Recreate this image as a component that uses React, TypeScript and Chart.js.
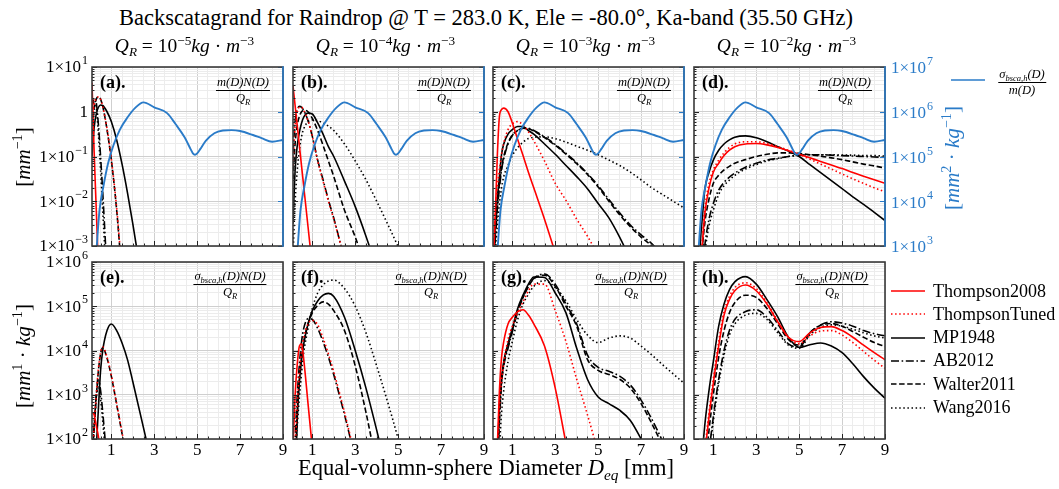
import React, { useEffect, useRef } from "react";
import { Chart, registerables } from "chart.js";

Chart.register(...registerables);

// ---------------- DATA (log10 of values) ----------------
const D_GRID = [0.1, 0.2, 0.3, 0.4, 0.5, 0.6, 0.8, 1.0, 1.25, 1.5, 1.75, 2, 2.5, 3, 3.5, 4, 4.5, 5, 5.5, 6, 6.5, 7, 7.5, 8, 8.5, 9];
const MODELS = ["Thompson2008", "ThompsonTuned", "MP1948", "AB2012", "Walter2011", "Wang2016"];
const MODEL_COLOR = ["#ff0000", "#ff0000", "#000000", "#000000", "#000000", "#000000"];
const MODEL_DASH = [[], [1.5, 2.6], [], [8, 2.6, 1.6, 2.6], [5.5, 2.6], [1.5, 2.6]];
const QR_EXP = [-5, -4, -3, -2];
const PANEL_LETTERS = ["a", "b", "c", "d", "e", "f", "g", "h"];
const X_TICK_LABELS = [1, 3, 5, 7, 9];
const TOP_LEFT_EXP = [-3, -2, -1, 0, 1];
const TOP_RIGHT_EXP = [3, 4, 5, 6, 7];
const BOTTOM_EXP = [2, 3, 4, 5, 6];

// sigma_bsca,h(D)/m(D)  (right axis, top row)
const BLUE_D = [0.3, 0.45, 0.63, 0.85, 1.1, 1.4, 1.75, 2.1, 2.5, 3.0, 3.6, 4.0, 4.4, 4.7, 4.8, 4.9, 5.0, 5.15, 5.4, 5.8, 6.2, 6.6, 7.0, 7.6, 8.0, 8.5, 9.0];
const BLUE_LOG = [2.85, 3.8, 4.33, 4.85, 5.25, 5.6, 5.87, 6.08, 6.21, 6.1, 5.97, 5.72, 5.44, 5.16, 5.07, 5.04, 5.07, 5.17, 5.35, 5.52, 5.58, 5.59, 5.57, 5.48, 5.41, 5.33, 5.37];

// (a) QR=1e-5, m(D)N(D)/QR
const a_Thompson2008 = [0.65, -0.9, -2.2, -3.5];
const a_ThompsonTuned = [-0.3, 0.15, 0.3, 0.33, 0.28, 0.12, -0.38, -1.05, -2.15, -3.6];
const a_MP1948 = [-1.0, -0.35, -0.05, 0.1, 0.15, 0.14, 0.0, -0.22, -0.63, -1.17, -1.8, -2.5, -4.0];
const a_AB2012 = [0.1, 0.3, 0.2, -0.3, -1.0, -1.8, -3.6];
const a_Walter2011 = [-0.5, 0.05, 0.28, 0.33, 0.28, 0.12, -0.4, -1.08, -2.2, -3.7];
const a_Wang2016 = [0.0, 0.25, 0.1, -0.5, -1.3, -2.2, -4.0];

// (b) QR=1e-4
const b_Thompson2008 = [0.58, 0.13, -0.32, -0.77, -1.22, -1.67, -2.57, -3.47];
const b_ThompsonTuned = [-1.2, -0.3, 0.0, 0.1, 0.1, 0.03, -0.2, -0.55, -1.1, -1.55, -2.0, -2.4, -3.3];
const b_MP1948 = [-2.5, -1.3, -0.75, -0.45, -0.25, -0.12, -0.03, -0.05, -0.25, -0.5, -0.78, -1.0, -1.55, -2.12, -2.78, -3.5];
const b_AB2012 = [-0.9, -0.2, 0.05, 0.12, 0.1, 0.03, -0.2, -0.55, -1.08, -1.52, -1.97, -2.38, -3.3];
const b_Walter2011 = [-1.5, -0.7, -0.3, -0.1, 0.0, 0.03, 0.0, -0.15, -0.42, -0.75, -1.1, -1.45, -2.2, -2.8, -3.5];
const b_Wang2016 = [-3.2, -2.0, -1.3, -0.85, -0.55, -0.38, -0.22, -0.18, -0.2, -0.25, -0.32, -0.42, -0.72, -1.1, -1.52, -2.0, -2.5, -3.02, -3.6];

// (c) QR=1e-3
const c_Thompson2008 = [-3.5, -2.4, -1.0, -0.1, 0.05, 0.08, 0.0, -0.25, -0.62, -0.98, -1.35, -1.7, -2.4, -3.15];
const c_ThompsonTuned = [-3.5, -2.3, -1.7, -1.3, -0.95, -0.7, -0.4, -0.27, -0.22, -0.3, -0.45, -0.65, -1.1, -1.6, -1.98, -2.4, -2.78, -3.2];
const c_MP1948 = [-3.5, -2.6, -1.95, -1.45, -0.95, -0.72, -0.5, -0.4, -0.33, -0.33, -0.42, -0.5, -0.72, -0.95, -1.2, -1.45, -1.72, -2.05, -2.37, -2.8, -3.3];
const c_AB2012 = [-3.6, -2.9, -2.2, -1.7, -1.3, -1.05, -0.72, -0.53, -0.42, -0.37, -0.37, -0.42, -0.56, -0.73, -0.93, -1.14, -1.38, -1.65, -1.96, -2.26, -2.53, -2.75, -2.95, -3.2];
const c_Walter2011 = [-3.5, -2.8, -2.1, -1.6, -1.25, -1.0, -0.7, -0.52, -0.42, -0.37, -0.38, -0.43, -0.58, -0.75, -0.95, -1.16, -1.4, -1.68, -2.0, -2.3, -2.57, -2.8, -3.0, -3.3];
const c_Wang2016 = [-4.0, -3.2, -2.55, -2.05, -1.7, -1.45, -1.2, -0.98, -0.8, -0.68, -0.6, -0.57, -0.56, -0.6, -0.68, -0.77, -0.86, -0.96, -1.08, -1.2, -1.35, -1.52, -1.7, -1.85, -2.0, -2.15];

// (d) QR=1e-2
const d_Thompson2008 = [-6, -5, -4.5, -3.8, -2.9, -2.3, -1.7, -1.35, -1.15, -0.98, -0.86, -0.78, -0.72, -0.71, -0.74, -0.8, -0.87, -0.95, -1.03, -1.11, -1.19, -1.27, -1.36, -1.44, -1.52, -1.6];
const d_ThompsonTuned = [-6, -5, -4.3, -3.6, -2.8, -2.2, -1.6, -1.3, -1.08, -0.92, -0.8, -0.72, -0.67, -0.67, -0.71, -0.78, -0.86, -0.95, -1.06, -1.17, -1.28, -1.39, -1.5, -1.6, -1.7, -1.79];
const d_MP1948 = [-6, -5, -4.0, -2.9, -2.3, -1.75, -1.35, -1.08, -0.86, -0.72, -0.63, -0.57, -0.54, -0.58, -0.67, -0.78, -0.88, -1.0, -1.18, -1.36, -1.54, -1.72, -1.9, -2.07, -2.25, -2.43];
const d_AB2012 = [-6, -5.5, -5, -4.2, -3.5, -3.0, -2.4, -2.05, -1.75, -1.58, -1.46, -1.37, -1.24, -1.15, -1.08, -1.04, -1.0, -0.97, -0.96, -0.96, -0.97, -0.98, -0.99, -1.0, -1.01, -1.02];
const d_Walter2011 = [-6, -5, -4.5, -3.8, -3.0, -2.5, -1.95, -1.6, -1.42, -1.3, -1.22, -1.15, -1.07, -1.0, -0.95, -0.92, -0.92, -0.93, -0.96, -0.99, -1.03, -1.07, -1.12, -1.17, -1.21, -1.26];
const d_Wang2016 = [-6, -5.5, -5, -4.3, -3.6, -3.15, -2.55, -2.2, -1.85, -1.65, -1.53, -1.42, -1.28, -1.18, -1.1, -1.05, -1.0, -0.97, -0.96, -0.96, -0.96, -0.97, -0.97, -0.98, -0.98, -0.99];

// (e) QR=1e-5, sigma N / QR
const e_Thompson2008 = [2.6, 2.55, 2.3, 2.05, 1.6];
const e_ThompsonTuned = [1.5, 2.3, 3.0, 3.6, 3.95, 4.08, 3.85, 3.45, 2.8, 2.15, 1.5];
const e_MP1948 = [0.0, 0.8, 1.8, 2.7, 3.55, 4.0, 4.45, 4.6, 4.45, 4.17, 3.8, 3.3, 2.25, 1.2];
const e_AB2012 = [1.5, 2.3, 3.0, 3.33, 3.1, 2.6, 1.5];
const e_Walter2011 = [1.4, 2.25, 2.95, 3.55, 3.93, 4.06, 3.83, 3.42, 2.78, 2.12, 1.45];
const e_Wang2016 = [1.4, 2.2, 2.9, 3.2, 2.9, 2.4, 1.3];

// (f) QR=1e-4
const f_Thompson2008 = [1.8, 3.0, 3.7, 4.1, 4.15, 3.8, 2.8, 1.8];
const f_ThompsonTuned = [0.5, 1.7, 2.8, 3.5, 4.0, 4.3, 4.6, 4.68, 4.58, 4.28, 3.92, 3.52, 2.6, 1.6];
const f_MP1948 = [0.0, 1.0, 2.5, 3.3, 3.8, 4.15, 4.6, 4.9, 5.12, 5.25, 5.29, 5.22, 4.75, 4.0, 3.15, 2.2, 1.2];
const f_AB2012 = [0.8, 2.0, 3.0, 3.7, 4.2, 4.5, 4.72, 4.7, 4.5, 4.2, 3.85, 3.45, 2.55, 1.55];
const f_Walter2011 = [0.2, 1.2, 2.6, 3.35, 3.85, 4.2, 4.6, 4.85, 5.02, 5.1, 5.05, 4.9, 4.45, 3.65, 2.6, 1.4];
const f_Wang2016 = [0.5, 1.5, 2.3, 2.95, 3.5, 3.95, 4.5, 4.95, 5.3, 5.48, 5.57, 5.59, 5.4, 5.0, 4.4, 3.65, 2.85, 2.0, 1.0];

// (g) QR=1e-3
const g_Thompson2008 = [-1, 0.5, 1.8, 3.1, 3.85, 4.2, 4.6, 4.75, 4.88, 4.92, 4.8, 4.6, 4.1, 3.15, 1.9];
const g_ThompsonTuned = [-1, 0.3, 1.5, 2.7, 3.3, 3.7, 4.25, 4.55, 4.85, 5.1, 5.35, 5.5, 5.5, 4.9, 4.2, 3.35, 2.55, 1.7];
const g_MP1948 = [-1, 0.3, 1.4, 2.75, 3.35, 3.75, 4.15, 4.5, 4.95, 5.25, 5.5, 5.66, 5.65, 5.3, 4.85, 4.05, 3.35, 2.95, 2.8, 2.65, 2.42, 2.0, 1.5];
const g_AB2012 = [-1, 0.1, 1.2, 2.4, 3.25, 3.65, 4.05, 4.42, 4.88, 5.2, 5.45, 5.63, 5.73, 5.5, 5.05, 4.6, 3.9, 3.62, 3.53, 3.42, 3.22, 2.88, 2.45, 1.95, 1.4];
const g_Walter2011 = [-1, 0.2, 1.3, 2.5, 3.3, 3.7, 4.1, 4.45, 4.9, 5.2, 5.45, 5.62, 5.7, 5.45, 5.0, 4.55, 3.8, 3.55, 3.46, 3.35, 3.15, 2.8, 2.35, 1.85];
const g_Wang2016 = [-1, -0.5, 0.6, 1.8, 2.6, 3.1, 3.75, 4.2, 4.7, 5.05, 5.27, 5.45, 5.58, 5.42, 5.12, 4.7, 4.35, 4.18, 4.28, 4.33, 4.28, 4.1, 3.9, 3.68, 3.47, 3.26];

// (h) QR=1e-2
const h_Thompson2008 = [-3, -2, -1, 0.0, 0.9, 1.6, 2.5, 3.26, 4.1, 4.8, 5.15, 5.35, 5.48, 5.35, 5.05, 4.65, 4.3, 4.2, 4.4, 4.52, 4.54, 4.45, 4.3, 4.12, 3.95, 3.79];
const h_ThompsonTuned = [-3, -2, -1, 0.1, 1.0, 1.7, 2.6, 3.35, 4.2, 4.88, 5.22, 5.42, 5.53, 5.4, 5.08, 4.67, 4.3, 4.15, 4.33, 4.44, 4.45, 4.35, 4.18, 3.98, 3.78, 3.6];
const h_MP1948 = [-3, -1.5, -0.5, 0.8, 1.7, 2.3, 3.1, 3.75, 4.55, 5.05, 5.37, 5.55, 5.67, 5.5, 5.15, 4.76, 4.3, 4.07, 4.13, 4.17, 4.1, 3.95, 3.7, 3.41, 3.15, 2.92];
const h_AB2012 = [-3, -2.5, -1.5, -0.7, 0.1, 0.8, 1.7, 2.5, 3.35, 4.0, 4.45, 4.7, 4.88, 4.92, 4.75, 4.45, 4.15, 4.08, 4.4, 4.58, 4.65, 4.62, 4.55, 4.45, 4.38, 4.33];
const h_Walter2011 = [-3, -2, -1, -0.3, 0.5, 1.2, 2.2, 3.0, 3.85, 4.45, 4.85, 5.08, 5.25, 5.2, 4.95, 4.6, 4.25, 4.12, 4.4, 4.57, 4.61, 4.55, 4.43, 4.3, 4.18, 4.09];
const h_Wang2016 = [-3, -2.5, -1.5, -0.8, -0.1, 0.6, 1.6, 2.4, 3.25, 3.9, 4.35, 4.6, 4.8, 4.84, 4.7, 4.4, 4.12, 4.05, 4.35, 4.52, 4.58, 4.55, 4.48, 4.4, 4.33, 4.28];

const TOP_SERIES = [
  [a_Thompson2008, a_ThompsonTuned, a_MP1948, a_AB2012, a_Walter2011, a_Wang2016],
  [b_Thompson2008, b_ThompsonTuned, b_MP1948, b_AB2012, b_Walter2011, b_Wang2016],
  [c_Thompson2008, c_ThompsonTuned, c_MP1948, c_AB2012, c_Walter2011, c_Wang2016],
  [d_Thompson2008, d_ThompsonTuned, d_MP1948, d_AB2012, d_Walter2011, d_Wang2016],
];
const BOTTOM_SERIES = [
  [e_Thompson2008, e_ThompsonTuned, e_MP1948, e_AB2012, e_Walter2011, e_Wang2016],
  [f_Thompson2008, f_ThompsonTuned, f_MP1948, f_AB2012, f_Walter2011, f_Wang2016],
  [g_Thompson2008, g_ThompsonTuned, g_MP1948, g_AB2012, g_Walter2011, g_Wang2016],
  [h_Thompson2008, h_ThompsonTuned, h_MP1948, h_AB2012, h_Walter2011, h_Wang2016],
];

// ---------------- LAYOUT ----------------
const FONT = '"Liberation Serif", "Times New Roman", serif';
const BLUE = "#2a7bc8";
const COL_LEFT = [92, 293, 493, 694];
const PANEL_W = 191;
const ROW_TOP = [67, 262];
const ROW_H = [179, 177];
const PAD = { left: 90, right: 70, top: 12, bottom: 30 };

function toPoints(logs: number[]) {
  return D_GRID.slice(0, logs.length).map((d, i) => ({ x: d, y: Math.pow(10, logs[i]) }));
}

function isDecade(v: number) {
  const l = Math.log10(v);
  return Math.abs(l - Math.round(l)) < 1e-6;
}

function logTicks(minExp: number, maxExp: number) {
  const t: { value: number }[] = [];
  for (let e = minExp; e < maxExp; e++) for (let k = 1; k < 10; k++) t.push({ value: k * Math.pow(10, e) });
  t.push({ value: Math.pow(10, maxExp) });
  return t;
}

function drawPow(ctx: CanvasRenderingContext2D, exp: number, x: number, y: number, align: string, color: string) {
  ctx.fillStyle = color;
  ctx.textBaseline = "middle";
  ctx.font = `17px ${FONT}`;
  if (exp === 0) {
    ctx.textAlign = align as CanvasTextAlign;
    ctx.fillText("1", x, y);
    return;
  }
  const base = "1×10";
  const sup = exp < 0 ? "−" + Math.abs(exp) : String(exp);
  const wb = ctx.measureText(base).width;
  ctx.font = `12px ${FONT}`;
  const ws = ctx.measureText(sup).width;
  const x0 = align === "right" ? x - wb - ws - 1 : x;
  ctx.textAlign = "left";
  ctx.font = `17px ${FONT}`;
  ctx.fillText(base, x0, y);
  ctx.font = `12px ${FONT}`;
  ctx.fillText(sup, x0 + wb + 1, y - 7);
}

const decoPlugin = {
  id: "deco",
  afterDraw(chart: any) {
    const o = chart.options.plugins.deco;
    const { ctx, chartArea: ca } = chart;
    const xs = chart.scales.x;
    const ys = chart.scales.y;
    ctx.save();
    ctx.strokeStyle = "#222";
    ctx.lineWidth = 1;
    for (const t of ys.ticks) {
      const py = Math.round(ys.getPixelForValue(t.value)) + 0.5;
      ctx.beginPath();
      ctx.moveTo(ca.left, py);
      ctx.lineTo(ca.left + (isDecade(t.value) ? 5 : 2.5), py);
      ctx.stroke();
    }
    for (const t of xs.ticks) {
      const px = Math.round(xs.getPixelForValue(t.value)) + 0.5;
      const major = Math.abs((t.value % 2) - 1) < 1e-6;
      ctx.beginPath();
      ctx.moveTo(px, ca.bottom);
      ctx.lineTo(px, ca.bottom - (major ? 5 : 2.5));
      ctx.stroke();
    }
    if (o.row === 0) {
      const y2 = chart.scales.y2;
      ctx.strokeStyle = BLUE;
      for (const e of TOP_RIGHT_EXP) {
        const py = Math.round(y2.getPixelForValue(Math.pow(10, e))) + 0.5;
        ctx.beginPath();
        ctx.moveTo(ca.right, py);
        ctx.lineTo(ca.right - 5, py);
        ctx.stroke();
      }
    }
    ctx.strokeStyle = "#3a3a3a";
    ctx.lineWidth = 1.6;
    ctx.strokeRect(ca.left, ca.top, ca.right - ca.left, ca.bottom - ca.top);
    if (o.row === 0) {
      ctx.strokeStyle = BLUE;
      ctx.beginPath();
      ctx.moveTo(ca.right, ca.top - 0.8);
      ctx.lineTo(ca.right, ca.bottom + 0.8);
      ctx.stroke();
    }
    if (o.col === 0) {
      const exps = o.row === 0 ? TOP_LEFT_EXP : BOTTOM_EXP;
      for (const e of exps) drawPow(ctx, e, ca.left - 4, ys.getPixelForValue(Math.pow(10, e)) + 1, "right", "#000");
    }
    if (o.row === 0 && o.col === 3) {
      const y2 = chart.scales.y2;
      for (const e of TOP_RIGHT_EXP) drawPow(ctx, e, ca.right + 6, y2.getPixelForValue(Math.pow(10, e)) + 2, "left", BLUE);
    }
    if (o.row === 1) {
      ctx.fillStyle = "#000";
      ctx.font = `17px ${FONT}`;
      ctx.textAlign = "center";
      ctx.textBaseline = "middle";
      for (const v of X_TICK_LABELS) ctx.fillText(String(v), xs.getPixelForValue(v), ca.bottom + 12);
    }
    ctx.restore();
  },
};

function Panel({ row, col }: { row: number; col: number }) {
  const ref = useRef<HTMLCanvasElement | null>(null);
  const W = PANEL_W + PAD.left + PAD.right;
  const H = ROW_H[row] + PAD.top + PAD.bottom;
  useEffect(() => {
    const series = row === 0 ? TOP_SERIES[col] : BOTTOM_SERIES[col];
    const datasets: any[] = [];
    if (row === 0) {
      datasets.push({
        label: "sigma/m",
        data: BLUE_D.map((d, i) => ({ x: d, y: Math.pow(10, BLUE_LOG[i]) })),
        yAxisID: "y2",
        borderColor: BLUE,
        borderWidth: 1.9,
        clip: 0,
      });
    }
    MODELS.forEach((m, i) => {
      datasets.push({
        label: m,
        data: toPoints(series[i]),
        yAxisID: "y",
        borderColor: MODEL_COLOR[i],
        borderDash: MODEL_DASH[i],
        borderWidth: 1.6,
        clip: 0,
      });
    });
    const yMinExp = row === 0 ? -3 : 2;
    const yMaxExp = row === 0 ? 1 : 6;
    const scales: any = {
      x: {
        type: "linear",
        min: 0.1,
        max: 9,
        afterBuildTicks: (s: any) => {
          const t: { value: number }[] = [];
          for (let v = 0.5; v <= 9.001; v += 0.5) t.push({ value: Math.round(v * 10) / 10 });
          s.ticks = t;
        },
        afterFit: (s: any) => { s.height = 0; },
        ticks: { display: false },
        border: { display: false },
        grid: {
          drawTicks: false,
          lineWidth: 1,
          color: (c: any) => (c.tick && Math.abs((c.tick.value % 2) - 1) < 1e-6 ? "#cfcfcf" : "#ececec"),
        },
      },
      y: {
        type: "logarithmic",
        position: "left",
        min: Math.pow(10, yMinExp),
        max: Math.pow(10, yMaxExp),
        afterBuildTicks: (s: any) => { s.ticks = logTicks(yMinExp, yMaxExp); },
        afterFit: (s: any) => { s.width = 0; },
        ticks: { display: false },
        border: { display: false },
        grid: {
          drawTicks: false,
          lineWidth: 1,
          color: (c: any) => (c.tick && isDecade(c.tick.value) ? "#cfcfcf" : "#ececec"),
        },
      },
    };
    if (row === 0) {
      scales.y2 = {
        type: "logarithmic",
        position: "right",
        min: 1e3,
        max: 1e7,
        afterFit: (s: any) => { s.width = 0; },
        ticks: { display: false },
        border: { display: false },
        grid: { display: false, drawTicks: false },
      };
    }
    const chart = new Chart(ref.current as HTMLCanvasElement, {
      type: "line",
      data: { datasets },
      options: {
        animation: false,
        responsive: false,
        maintainAspectRatio: false,
        layout: { padding: PAD },
        elements: { point: { radius: 0 }, line: { cubicInterpolationMode: "monotone" } },
        plugins: { legend: { display: false }, tooltip: { enabled: false }, deco: { row, col } } as any,
        scales,
      } as any,
      plugins: [decoPlugin as any],
    });
    return () => chart.destroy();
  }, [row, col]);
  return (
    <canvas
      ref={ref}
      width={W}
      height={H}
      style={{ position: "absolute", left: COL_LEFT[col] - PAD.left, top: ROW_TOP[row] - PAD.top, width: W, height: H }}
    />
  );
}

const supS: React.CSSProperties = { fontSize: "0.68em", verticalAlign: "0.55em", lineHeight: 0 };
const subS: React.CSSProperties = { fontSize: "0.68em", verticalAlign: "-0.3em", lineHeight: 0 };

function Frac({ num, den, size, color, cx, top }: any) {
  return (
    <div
      style={{
        position: "absolute",
        left: cx,
        top,
        transform: "translateX(-50%)",
        display: "flex",
        flexDirection: "column",
        alignItems: "center",
        fontSize: size,
        fontStyle: "italic",
        lineHeight: 1.05,
        color,
        whiteSpace: "nowrap",
      }}
    >
      <div style={{ padding: "0 1px 1px 1px" }}>{num}</div>
      <div style={{ borderTop: `1px solid ${color}`, width: "100%", textAlign: "center", paddingTop: 1 }}>{den}</div>
    </div>
  );
}

const sigmaNum = (
  <span>
    σ<span style={subS}>bsca,h</span>(D)
  </span>
);

function LegendLine({ dash, color }: { dash: number[]; color: string }) {
  return (
    <svg width={36} height={8} style={{ display: "block" }}>
      <line x1={1} y1={4} x2={35} y2={4} stroke={color} strokeWidth={1.7} strokeDasharray={dash.length ? dash.join(" ") : undefined} />
    </svg>
  );
}

export default function App() {
  const panels: any[] = [];
  for (let r = 0; r < 2; r++) for (let c = 0; c < 4; c++) panels.push(<Panel key={`${r}-${c}`} row={r} col={c} />);
  return (
    <div
      style={{
        position: "absolute",
        left: 0,
        top: 0,
        width: 1059,
        height: 489,
        background: "#fff",
        fontFamily: FONT,
        color: "#000",
        overflow: "hidden",
      }}
    >
      {panels}
      <div style={{ position: "absolute", left: 486, top: 5, transform: "translateX(-50%)", whiteSpace: "nowrap", fontSize: 22.5 }}>
        Backscatagrand for Raindrop @ T = 283.0 K, Ele = -80.0°, Ka-band (35.50 GHz)
      </div>
      {QR_EXP.map((e, i) => (
        <div key={"qt" + i} style={{ position: "absolute", left: COL_LEFT[i] + PANEL_W / 2 - 3, top: 35, transform: "translateX(-50%)", whiteSpace: "nowrap", fontSize: 19.5 }}>
          <i>Q</i>
          <span style={subS}><i>R</i></span> = 10<span style={supS}>−{Math.abs(e)}</span>
          <i>kg</i> · <i>m</i>
          <span style={supS}>−3</span>
        </div>
      ))}
      {PANEL_LETTERS.map((l, i) => {
        const r = Math.floor(i / 4);
        const c = i % 4;
        return (
          <div key={"pl" + i} style={{ position: "absolute", left: COL_LEFT[c] + 8, top: ROW_TOP[r] + 5, fontSize: 18, fontWeight: "bold", whiteSpace: "nowrap" }}>
            ({l}).
          </div>
        );
      })}
      {[0, 1, 2, 3].map((c) => (
        <Frac key={"ft" + c} num={<span>m(D)N(D)</span>} den={<span>Q<span style={subS}>R</span></span>} size={12.5} color="#000" cx={COL_LEFT[c] + 151} top={ROW_TOP[0] + 9} />
      ))}
      {[0, 1, 2, 3].map((c) => (
        <Frac key={"fb" + c} num={<span>{sigmaNum}N(D)</span>} den={<span>Q<span style={subS}>R</span></span>} size={12.5} color="#000" cx={COL_LEFT[c] + 138} top={ROW_TOP[1] + 8} />
      ))}
      <div style={{ position: "absolute", left: 23, top: 157, transform: "translate(-50%,-50%) rotate(-90deg)", whiteSpace: "nowrap", fontSize: 21 }}>
        [<i>mm</i>
        <span style={supS}>−1</span>]
      </div>
      <div style={{ position: "absolute", left: 23, top: 356, transform: "translate(-50%,-50%) rotate(-90deg)", whiteSpace: "nowrap", fontSize: 21 }}>
        [<i>mm</i>
        <span style={supS}>1</span> · <i>kg</i>
        <span style={supS}>−1</span>]
      </div>
      <div style={{ position: "absolute", left: 952, top: 158, transform: "translate(-50%,-50%) rotate(-90deg)", whiteSpace: "nowrap", fontSize: 21, color: BLUE }}>
        [<i>mm</i>
        <span style={supS}>2</span> · <i>kg</i>
        <span style={supS}>−1</span>]
      </div>
      <div style={{ position: "absolute", left: 950, top: 76 }}>
        <LegendLine dash={[]} color={BLUE} />
      </div>
      <Frac num={sigmaNum} den={<span>m(D)</span>} size={12.5} color="#000" cx={1022} top={68} />
      {MODELS.map((m, i) => (
        <div key={"lg" + i} style={{ position: "absolute", left: 890, top: 291 + i * 23.3 - 11, display: "flex", alignItems: "center", height: 22, whiteSpace: "nowrap" }}>
          <LegendLine dash={MODEL_DASH[i]} color={MODEL_COLOR[i]} />
          <span style={{ marginLeft: 7, fontSize: 18 }}>{m}</span>
        </div>
      ))}
      <div style={{ position: "absolute", left: 486, top: 455, transform: "translateX(-50%)", whiteSpace: "nowrap", fontSize: 22.5 }}>
        Equal-volumn-sphere Diameter <i>D</i>
        <span style={subS}><i>eq</i></span> [mm]
      </div>
    </div>
  );
}
